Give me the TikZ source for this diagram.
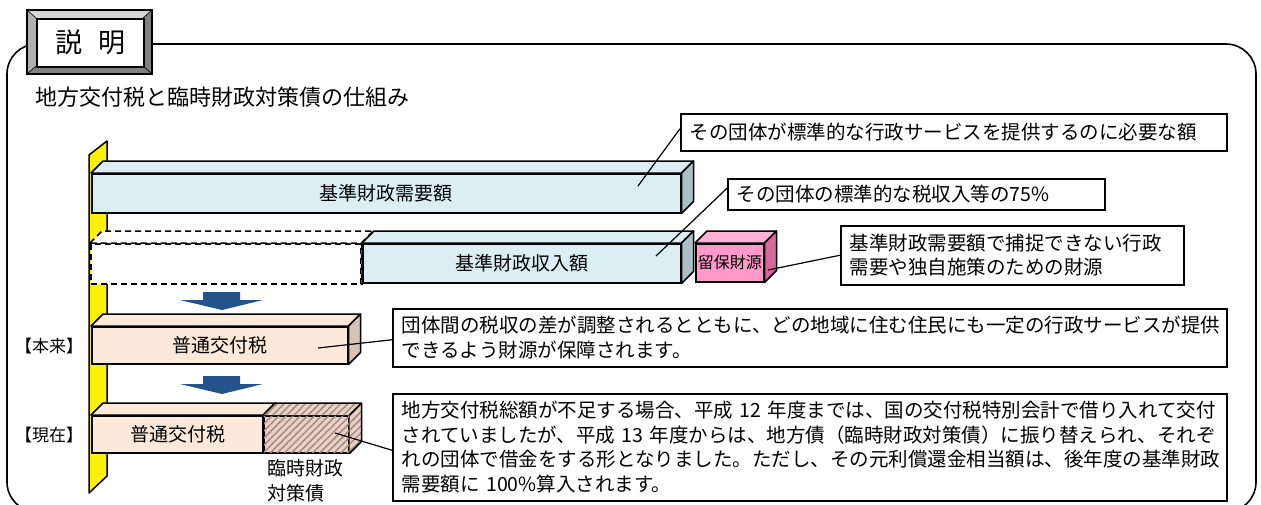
\documentclass[tikz,border=0pt]{standalone}
\usepackage{fontspec}
\setmainfont{Noto Sans CJK JP}
\usetikzlibrary{patterns.meta}
\definecolor{blueF}{HTML}{DAEEF3}
\definecolor{blueS}{HTML}{A9C0C6}
\definecolor{peachF}{HTML}{FDE9D9}
\definecolor{peachS}{HTML}{D8C2B4}
\definecolor{pinkF}{HTML}{FF99CC}
\definecolor{pinkT}{HTML}{FFB0D8}
\definecolor{pinkS}{HTML}{D6689F}
\definecolor{hatchF}{HTML}{E8D2C8}
\definecolor{hatchL}{HTML}{A8887C}
\definecolor{arrowC}{HTML}{24528A}
\definecolor{bevL}{HTML}{D6D6D6}
\definecolor{bevM}{HTML}{B0B0B0}
\definecolor{bevD}{HTML}{7F7F7F}
\newcommand{\fz}[2]{\fontsize{#1}{#2}\selectfont}
\newcommand{\faces}[4]{%
 \filldraw[fill=#2, lw, line join=round, #4] (#1.north west) -- ++(12,-12) -- ([shift={(12,-12)}]#1.north east) -- (#1.north east) -- cycle;
 \filldraw[fill=#3, lw, line join=round, #4] (#1.north east) -- ++(12,-12) -- ([shift={(12,-12)}]#1.south east) -- (#1.south east) -- cycle;}
\begin{document}
\begin{tikzpicture}[x=1pt,y=-1pt,
  lw/.style={line width=1.5pt},
  face/.style={draw=black, line width=1.5pt, inner sep=0pt, anchor=north west, font=\fz{19}{22}},
  callout/.style={draw=black, line width=1.5pt, fill=white, anchor=north west, inner xsep=9pt, inner ysep=0pt, align=left, font=\fz{19.5}{24.5}},
  leader/.style={draw=black, line width=1.2pt},
  dnarrow/.style={fill=arrowC}]
\useasboundingbox (0,0) rectangle (1261,504);
% outer frame
\draw[line width=1.6pt, rounded corners=30pt] (7,44) rectangle (1256,512);
% title plate
\fill[bevM] (27,10) rectangle (152,74);
\fill[bevL] (27,10) -- (152,10) -- (143,18) -- (36,18) -- cycle;
\fill[bevM] (27,10) -- (36,18) -- (36,66) -- (27,74) -- cycle;
\fill[bevD] (152,10) -- (152,74) -- (143,66) -- (143,18) -- cycle;
\fill[gray] (27,74) -- (36,66) -- (143,66) -- (152,74) -- cycle;
\draw[line width=0.6pt] (27,10) -- (36,18) (152,10) -- (143,18) (27,74) -- (36,66) (152,74) -- (143,66);
\draw[lw] (27,10) rectangle (152,74);
\node[draw, lw, fill=white, minimum width=107pt, minimum height=48pt, inner sep=0pt, anchor=north west, font=\fz{27}{30}] (expl) at (36,18) {説\hspace{16pt}明};
% heading
\node[anchor=west, inner sep=0pt, font=\fz{22}{26}] (title) at (35,97) {地方交付税と臨時財政対策債の仕組み};
% yellow axis
\filldraw[fill=yellow, lw, line join=round] (89,155) -- (107,141) -- (107,476) -- (89,493) -- cycle;
% bar 1
\node[face, fill=blueF, minimum width=589pt, minimum height=39pt] (need) at (91,173) {基準財政需要額};
\faces{need}{blueF}{blueS}{}
% dashed bar
\node[face, fill=white, dash pattern=on 6pt off 4pt, minimum width=270pt, minimum height=40pt] (gap) at (90,243) {};
\faces{gap}{white}{white}{dash pattern=on 6pt off 4pt}
% bar 3
\node[face, fill=blueF, minimum width=318pt, minimum height=39pt] (rev) at (362,243) {基準財政収入額};
\faces{rev}{blueF}{blueS}{}
% pink bar
\node[face, fill=pinkF, minimum width=68pt, minimum height=38pt, font=\fz{16}{18}] (res) at (695,243) {留保財源};
\faces{res}{pinkT}{pinkS}{}
% arrows
\fill[dnarrow] (203,292) -- (240,292) -- (240,300) -- (263,300) -- (222,310) -- (180,300) -- (203,300) -- cycle;
\fill[dnarrow, shift={(0,84)}] (203,292) -- (240,292) -- (240,300) -- (263,300) -- (222,310) -- (180,300) -- (203,300) -- cycle;
% bar 4
\node[face, fill=peachF, minimum width=256pt, minimum height=37pt] (orig) at (91,326) {普通交付税};
\faces{orig}{peachF}{peachS}{}
% bar 5
\node[face, fill=peachF, minimum width=172pt, minimum height=37pt] (now) at (91,415) {普通交付税};
\node[face, fill=hatchF, minimum width=85pt, minimum height=37pt] (tmp) at (263,415) {};
\fill[pattern={Lines[angle=45,distance=5pt,line width=1.5pt]}, pattern color=hatchL] (tmp.north west) rectangle (tmp.south east);
\draw[lw] (tmp.north west) rectangle (tmp.south east);
\filldraw[fill=peachF, lw, line join=round] (now.north west) -- ++(12,-12) -- ([shift={(12,-12)}]now.north east) -- (now.north east) -- cycle;
\fill[hatchF] (tmp.north west) -- ++(12,-12) -- ([shift={(12,-12)}]tmp.north east) -- ([shift={(12,-12)}]tmp.south east) -- (tmp.south east) -- (tmp.north east) -- cycle;
\fill[pattern={Lines[angle=45,distance=5pt,line width=1.5pt]}, pattern color=hatchL] (tmp.north west) -- ++(12,-12) -- ([shift={(12,-12)}]tmp.north east) -- ([shift={(12,-12)}]tmp.south east) -- (tmp.south east) -- (tmp.north east) -- cycle;
\draw[lw, line join=round] (tmp.north west) -- ++(12,-12) -- ([shift={(12,-12)}]tmp.north east) -- (tmp.north east);
\draw[lw, line join=round] ([shift={(12,-12)}]tmp.north east) -- ([shift={(12,-12)}]tmp.south east) -- (tmp.south east);
% side labels
\node[font=\fz{17}{19}] (honrai) at (49,346) {【本来】};
\node[font=\fz{17}{19}] (genzai) at (49,435) {【現在】};
\node[anchor=north west, align=left, font=\fz{19}{25}, inner sep=0pt] (rinji) at (267,459) {臨時財政\\対策債};
% callouts
\node[callout, text width=528pt, minimum height=37pt] (ca) at (680,113) {その団体が標準的な行政サービスを提供するのに必要な額};
\node[callout, text width=359pt, minimum height=31pt] (cb) at (727,178) {その団体の標準的な税収入等の75\%};
\node[callout, text width=325pt, minimum height=59pt] (cc) at (840,225) {基準財政需要額で捕捉できない行政\\需要や独自施策のための財源};
\node[callout, text width=816pt, minimum height=58pt] (cd) at (392,308) {団体間の税収の差が調整されるとともに、どの地域に住む住民にも一定の行政サービスが提供\\できるよう財源が保障されます。};
\node[callout, text width=816pt, minimum height=107pt] (ce) at (392,393) {地方交付税総額が不足する場合、平成 12 年度までは、国の交付税特別会計で借り入れて交付\\されていましたが、平成 13 年度からは、地方債（臨時財政対策債）に振り替えられ、それぞ\\れの団体で借金をする形となりました。ただし、その元利償還金相当額は、後年度の基準財政\\需要額に 100\%算入されます。};
% leaders
\coordinate (pa) at (638,186);
\coordinate (pb) at (656,256);
\coordinate (pc) at (768,270);
\coordinate (pd) at (318,348);
\coordinate (pe) at (335,433);
\draw[leader] (pa) -- ([yshift=3.5pt]ca.west);
\draw[leader] (pb) -- ([yshift=6pt]cb.west);
\draw[leader] (pc) -- (cc.west);
\draw[leader] (pd) -- ([yshift=-2pt]cd.west);
\draw[leader] (pe) -- ([yshift=-3pt]ce.west);
\end{tikzpicture}
\end{document}
